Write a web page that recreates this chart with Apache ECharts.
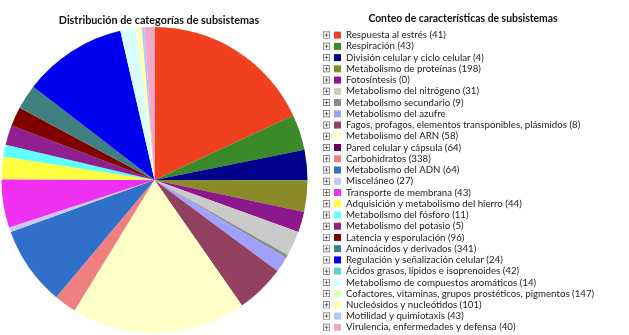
<!DOCTYPE html>
<html><head><meta charset="utf-8">
<script src="https://cdn.jsdelivr.net/npm/echarts@6/dist/echarts.min.js"></script>
<style>html,body{margin:0;padding:0;background:#fff}#c{width:629px;height:335px}</style>
</head><body><div id="c"></div>
<script>
const categories = [
  'Respuesta al estrés','Respiración','División celular y ciclo celular','Metabolismo de proteínas',
  'Fotosíntesis','Metabolismo del nitrógeno','Metabolismo secundario','Metabolismo del azufre',
  'Fagos, profagos, elementos transponibles, plásmidos','Metabolismo del ARN','Pared celular y cápsula',
  'Carbohidratos','Metabolismo del ADN','Misceláneo','Transporte de membrana',
  'Adquisición y metabolismo del hierro','Metabolismo del fósforo','Metabolismo del potasio',
  'Latencia y esporulación','Aminoácidos y derivados','Regulación y señalización celular',
  'Ácidos grasos, lípidos e isoprenoides','Metabolismo de compuestos aromáticos',
  'Cofactores, vitaminas, grupos prostéticos, pigmentos','Nucleósidos y nucleótidos',
  'Motilidad y quimiotaxis','Virulencia, enfermedades y defensa'
];
const featureCounts = [41,43,4,198,0,31,9,null,8,58,64,338,64,27,43,44,11,5,96,341,24,42,14,147,101,43,40];
// pie share of each category (approximate)
const sliceValues = [65,13.5,11.5,12,7.8,9.5,1.2,5.9,18.6,66.3,0,8.5,30.1,1.8,18.4,8.5,4.5,7.5,7.3,9.4,39.5,0,6.1,0,2,1,3.8];
const colors = ['#f04020','#3a8a2a','#00008c','#8a8a28','#8c188c','#cacaca','#8c8c8c','#a0a0ff',
  '#944060','#ffffc8','#600060','#f08080','#3070c8','#c8c8f0','#f030f0','#ffff40','#60ffff',
  '#902090','#800000','#408080','#0000f0','#60d0d0','#d8ffff','#d0ffc0','#ffffb0','#b0c8ff','#f0a8c8'];
const chartTitle = 'Distribución de categorías de subsistemas';
const legendTitle = 'Conteo de características de subsistemas';

const countMap = {};
categories.forEach((c,i)=>{countMap[c]=featureCounts[i];});
const chart = echarts.init(document.getElementById('c'));
const FONT = 'Lato';
const ROW = 11.24;
chart.setOption({
  animation:false,
  color:colors,
  title:[
    {text:chartTitle,left:154,top:10,textAlign:'center',textStyle:{fontFamily:FONT,fontSize:10.8,fontWeight:'bold',color:'#111'}},
    {text:legendTitle,left:458,top:9,textAlign:'center',textStyle:{fontFamily:FONT,fontSize:10.4,fontWeight:'bold',color:'#111'}}
  ],
  legend:[
    {
      orient:'vertical', top:24.5, height:310, itemGap:0, data:categories, selectedMode:false,
      left:329, itemWidth:7, itemHeight:7, icon:'rect',
      textStyle:{fontFamily:FONT,fontSize:9.7,color:'#222',lineHeight:ROW},
      formatter:n=> countMap[n]==null ? n : n+' ('+countMap[n]+')'
    },
    {
      orient:'vertical', top:26.6, height:310, itemGap:ROW-7, data:categories, selectedMode:false,
      left:318, itemWidth:7, itemHeight:7,
      icon:'path://M0,0H10V10H0Z M1,1V9H9V1Z M4.3,2.2H5.7V7.8H4.3Z M2.2,4.3H7.8V5.7H2.2Z',
      itemStyle:{color:'#666'},
      textStyle:{fontSize:1,color:'rgba(0,0,0,0)',lineHeight:1},
      formatter:n=> ''
    }
  ],
  series:[{
    type:'pie', center:[154.5,180], radius:153, startAngle:90, clockwise:true,
    label:{show:false}, labelLine:{show:false}, emphasis:{disabled:true},
    itemStyle:{borderWidth:0},
    data:categories.map((c,i)=>({name:c,value:sliceValues[i]}))
  }]
});
</script></body></html>
